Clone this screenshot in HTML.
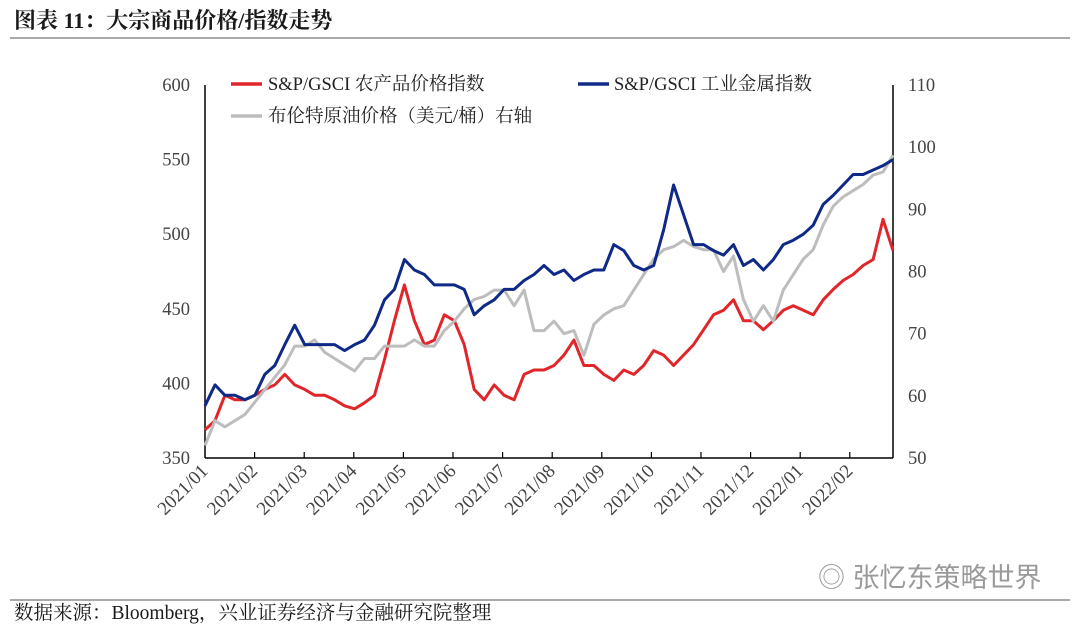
<!DOCTYPE html>
<html><head><meta charset="utf-8"><style>
body{margin:0;background:#fff;width:1080px;height:627px;overflow:hidden;font-family:"Liberation Serif","Noto Serif CJK SC",serif;}
</style></head><body>
<svg width="1080" height="627" xmlns="http://www.w3.org/2000/svg">
<text x="14" y="28" font-size="22" font-weight="bold" fill="#1a1a1a" font-family="Liberation Serif, Noto Serif CJK SC, serif">图表 11：大宗商品价格/指数走势</text>
<line x1="10" y1="38" x2="1070" y2="38" stroke="#555" stroke-width="1"/>
<g id="axes"></g>
<g id="series"></g>
<g font-size="18.5" fill="#222">
<line x1="231" y1="84" x2="262" y2="84" stroke="#e0262a" stroke-width="3.5"/>
<text x="268" y="90">S&amp;P/GSCI 农产品价格指数</text>
<line x1="578" y1="84" x2="609" y2="84" stroke="#0f2a86" stroke-width="3.5"/>
<text x="614" y="90">S&amp;P/GSCI 工业金属指数</text>
<line x1="231" y1="116" x2="262" y2="116" stroke="#bdbdbd" stroke-width="3.5"/>
<text x="268" y="122">布伦特原油价格（美元/桶）右轴</text>
</g>
<text x="818" y="587" font-size="27" fill="#9a9a9a" font-family="Liberation Sans, Noto Sans CJK SC, sans-serif">◎ 张忆东策略世界</text>
<line x1="10" y1="600" x2="1070" y2="600" stroke="#555" stroke-width="1"/>
<text x="14" y="619" font-size="19.5" fill="#1a1a1a">数据来源：Bloomberg，兴业证券经济与金融研究院整理</text>
</svg>
<script>
const monthLabels=["2021/01","2021/02","2021/03","2021/04","2021/05","2021/06","2021/07","2021/08","2021/09","2021/10","2021/11","2021/12","2022/01","2022/02"];
const leftTicks=[350,400,450,500,550,600];
const rightTicks=[50,60,70,80,90,100,110];
const agri=[369,375,392,389,389,392,396,399,406,399,396,392,392,389,385,383,387,392,416,442,466,442,426,429,446,442,426,396,389,399,392,389,406,409,409,412,419,429,412,412,406,402,409,406,412,422,419,412,419,426,436,446,449,456,442,442,436,442,449,452,449,446,456,463,469,473,479,483,510,489];
const metal=[385,399,392,392,389,392,406,412,426,439,426,426,426,426,422,426,429,439,456,463,483,476,473,466,466,466,463,446,452,456,463,463,469,473,479,473,476,469,473,476,476,493,489,479,476,479,503,533,513,493,493,489,486,493,479,483,476,483,493,496,500,506,520,526,533,540,540,543,546,550];
const brent=[52,56,55,56,57,59,61,63,65,68,68,69,67,66,65,64,66,66,68,68,68,69,68,68,70.5,72,74,75.5,76,77,77,74.5,77,70.5,70.5,72,70,70.5,66.5,71.5,73,74,74.5,77,79.5,82,83.5,84,85,84,83.5,83.5,80,82.5,75.5,72,74.5,72,77,79.5,82,83.5,87.5,90.5,92,93,94,95.5,96,98.7];
const NS="http://www.w3.org/2000/svg";
const X0=205,X1=893,Y0=458,Y1=85;
const yL=v=>Y0-(v-350)/250*(Y0-Y1);
const yR=v=>Y0-(v-50)/60*(Y0-Y1);
const xI=i=>X0+i*(X1-X0)/(agri.length-1);
const xM=k=>X0+k*49.6;
function mk(tag,attrs,parent){const e=document.createElementNS(NS,tag);for(const k in attrs)e.setAttribute(k,attrs[k]);parent.appendChild(e);return e;}
const ax=document.getElementById('axes');
let e=mk('line',{x1:X0,y1:Y1,x2:X0,y2:Y0,stroke:'#000','stroke-width':1.5},ax);


e=mk('line',{x1:X1,y1:Y1,x2:X1,y2:Y0,stroke:'#000','stroke-width':1.5},ax);


e=mk('line',{x1:X0,y1:Y0,x2:X1,y2:Y0,stroke:'#000','stroke-width':1.5},ax);


leftTicks.forEach(v=>{const t=mk('text',{x:X0-15,y:yL(v)+6,'text-anchor':'end','font-size':18.5,fill:'#444'},ax);t.textContent=v;

});
rightTicks.forEach(v=>{const t=mk('text',{x:X1+15,y:yR(v)+6,'font-size':18.5,fill:'#444'},ax);t.textContent=v;

});
monthLabels.forEach((m,k)=>{const x=xM(k);
if(k>0){const l=mk('line',{x1:x,y1:Y0,x2:x,y2:Y0-6,stroke:'#000','stroke-width':1.2},ax);

}
const t=mk('text',{x:x+4,y:Y0+14,'text-anchor':'end','font-size':19,fill:'#444',transform:`rotate(-45 ${x+4} ${Y0+14})`},ax);t.textContent=m;

});
const sg=document.getElementById('series');
function line(arr,yf,col,name){const d=arr.map((v,i)=>(i?'L':'M')+xI(i).toFixed(1)+','+yf(v).toFixed(1)).join('');
const p=mk('path',{d,fill:'none',stroke:col,'stroke-width':3,'stroke-linejoin':'round'},sg);

}
line(agri,yL,'#e0262a','agri-line');
line(brent,yR,'#bdbdbd','brent-line');
line(metal,yL,'#0f2a86','metal-line');
</script>
</body></html>
